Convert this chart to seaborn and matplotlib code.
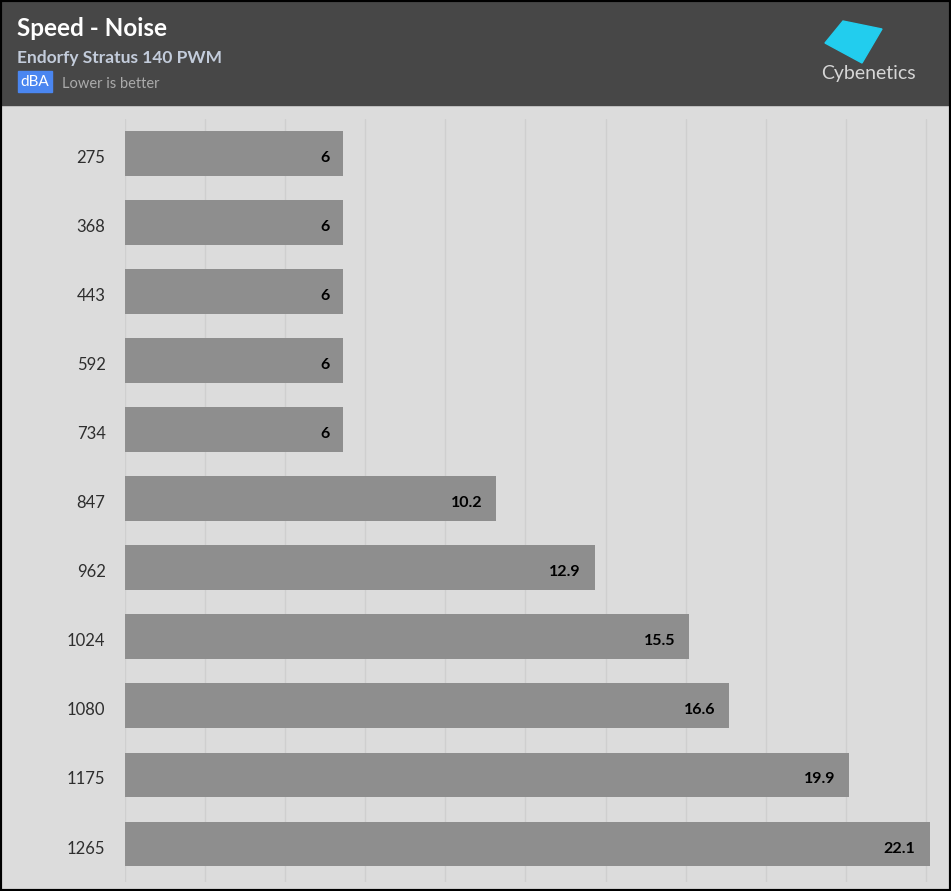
import matplotlib
matplotlib.use("Agg")
import numpy as np
import pandas as pd
import seaborn as sns
import matplotlib.pyplot as plt
import matplotlib.transforms as mtransforms
from matplotlib.patches import Rectangle, Polygon

# fan speed (rpm) and noise (dBA)
speeds = ["275", "368", "443", "592", "734", "847", "962", "1024", "1080", "1175", "1265"]
noise = [6, 6, 6, 6, 6, 10.2, 12.9, 15.5, 16.6, 19.9, 22.1]
value_labels = ["6", "6", "6", "6", "6", "10.2", "12.9", "15.5", "16.6", "19.9", "22.1"]

sns.set_theme(style="white")
plt.rcParams["font.family"] = ["Lato", "DejaVu Sans"]

W, H = 951, 891


def px(x, y):
    return x / W, 1 - y / H


fig = plt.figure(figsize=(W / 100, H / 100), dpi=100)
fig.patch.set_facecolor("#dcdcdc")

# header band
fig.patches.append(Rectangle(px(0, 105), 1, 105 / H, transform=fig.transFigure,
                             color="#474747", zorder=0))

ax = fig.add_axes([125 / W, 1 - 882 / H, 810 / W, (882 - 119) / H])
ax.set_facecolor("#dcdcdc")

df = pd.DataFrame({"speed": speeds, "dba": noise})
sns.barplot(data=df, x="dba", y="speed", order=speeds, color="#8e8e8e",
            saturation=1, width=0.65, linewidth=0, ax=ax, zorder=2)

ax.set_xlim(0, 22.25)
ax.set_ylim(10.55, -0.5)
ax.set_xticks(np.arange(0, 22.1, 2.2))
ax.grid(axis="x", color="#cfcfcf", lw=1)
ax.set_axisbelow(True)
ax.tick_params(axis="x", labelbottom=False, length=0)
ax.tick_params(axis="y", length=0, pad=14, labelsize=12, labelcolor="#2e2e2e")
shift = mtransforms.ScaledTranslation(0, -3 / 100, fig.dpi_scale_trans)
for lab in ax.get_yticklabels():
    lab.set_va("center_baseline")
    lab.set_transform(lab.get_transform() + shift)
ax.set_xlabel("")
ax.set_ylabel("")
for s in ax.spines.values():
    s.set_visible(False)

for i, (v, lab) in enumerate(zip(noise, value_labels)):
    ax.annotate(lab, (v, i), xytext=(-14, -3), textcoords="offset pixels",
                ha="right", va="center_baseline", fontsize=11.5, fontweight="bold",
                color="black", zorder=3)

# header texts
fig.text(*px(17, 36), "Speed - Noise", color="white", fontsize=17.5,
         fontweight="bold", va="baseline", ha="left")
fig.text(*px(17, 63), "Endorfy Stratus 140 PWM", color="#c3ccdb", fontsize=12.5,
         fontweight="bold", va="baseline", ha="left")
fig.patches.append(Rectangle(px(18, 92), 34 / W, 21 / H, transform=fig.transFigure,
                             color="#4a86f0", zorder=1))
fig.text(*px(35, 82), "dBA", color="white", fontsize=11, va="center", ha="center")
fig.text(*px(62, 88), "Lower is better", color="#ababab", fontsize=10.5,
         va="baseline", ha="left")

# logo
logo = [px(843, 21), px(882, 29), px(862, 63), px(825, 43)]
fig.patches.append(Polygon(logo, closed=True, transform=fig.transFigure,
                           color="#22cdee", zorder=1))
fig.text(*px(868, 79), "Cybenetics", color="#d6d6d6", fontsize=14,
         va="baseline", ha="center")

# outer border
fig.patches.append(Rectangle((0, 0), 1, 1, transform=fig.transFigure, fill=False,
                             ec="black", lw=3, zorder=5))

fig.savefig("out.png", dpi=100, facecolor=fig.get_facecolor())
